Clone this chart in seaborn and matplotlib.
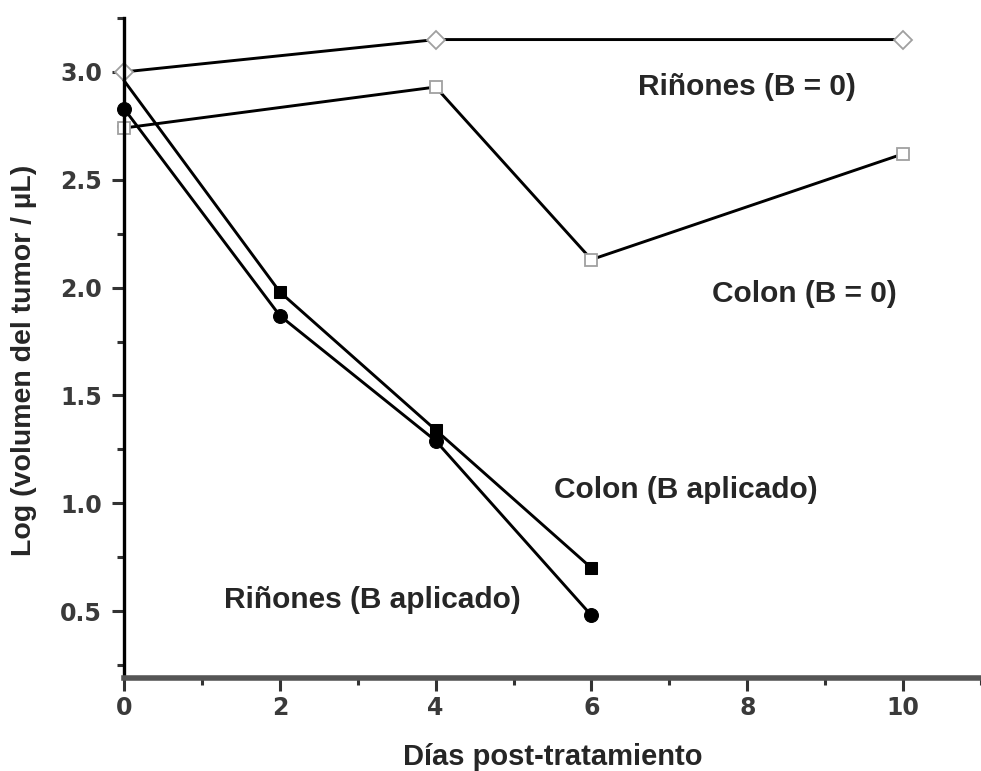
import matplotlib
matplotlib.use("Agg")
import matplotlib.pyplot as plt
import seaborn as sns
import pandas as pd
from matplotlib.ticker import MultipleLocator

# Data
dias_rin0 = [0, 4, 10]
rin_b0 = [3.0, 3.15, 3.15]
dias_col0 = [0, 4, 6, 10]
col_b0 = [2.74, 2.93, 2.13, 2.62]
dias_b = [0, 2, 4, 6]
col_bap = [2.96, 1.98, 1.34, 0.70]
rin_bap = [2.83, 1.87, 1.29, 0.48]
labels = ["Riñones (B = 0)", "Colon (B = 0)", "Colon (B aplicado)", "Riñones (B aplicado)"]
x_ticks = [0, 2, 4, 6, 8, 10]
y_ticks = [0.5, 1.0, 1.5, 2.0, 2.5, 3.0]

sns.set_style("white")
FAM = ["Liberation Sans", "DejaVu Sans"]
plt.rcParams["font.family"] = FAM

fig = plt.figure(figsize=(9.81, 7.71), dpi=100)
ax = fig.add_axes([124/981, 93/771, 1 - 124/981, (678-18)/771])

def df(x, y):
    return pd.DataFrame({"x": x, "y": y})

lw = 2.1
sns.lineplot(data=df(dias_rin0, rin_b0), x="x", y="y", ax=ax, color="black", lw=lw,
             marker="D", markersize=9, markerfacecolor="white", markeredgecolor="#a0a0a0",
             markeredgewidth=1.3, clip_on=False)
sns.lineplot(data=df(dias_col0, col_b0), x="x", y="y", ax=ax, color="black", lw=lw,
             marker="s", markersize=8, markerfacecolor="white", markeredgecolor="#a0a0a0",
             markeredgewidth=1.3, clip_on=False)
sns.lineplot(data=df(dias_b, col_bap), x="x", y="y", ax=ax, color="black", lw=lw,
             marker="s", markersize=9, markerfacecolor="black", markeredgecolor="black",
             markevery=[1, 2, 3], clip_on=False)
sns.lineplot(data=df(dias_b, rin_bap), x="x", y="y", ax=ax, color="black", lw=lw,
             marker="o", markersize=10, markerfacecolor="black", markeredgecolor="black",
             clip_on=False)

ax.set_xlim(0, 11)
ax.set_ylim(0.19, 3.25)
ax.set_xticks(x_ticks)
ax.set_yticks(y_ticks)
ax.set_xticklabels([str(v) for v in x_ticks])
ax.set_yticklabels([f"{v:.1f}" for v in y_ticks])
ax.xaxis.set_minor_locator(MultipleLocator(1))
ax.yaxis.set_minor_locator(MultipleLocator(0.25))

for s in ["top", "right"]:
    ax.spines[s].set_visible(False)
ax.spines["left"].set_linewidth(2.4)
ax.spines["left"].set_color("black")
ax.spines["bottom"].set_linewidth(4.0)
ax.spines["bottom"].set_color("#555555")

ax.tick_params(axis="both", which="both", bottom=True, left=True, top=False, right=False)
ax.tick_params(axis="both", which="major", direction="out", length=9, width=2.2,
               color="#333333", labelsize=17, labelcolor="#3a3a3a", pad=4)
ax.tick_params(axis="y", which="major", pad=7)
ax.tick_params(axis="both", which="minor", direction="out", length=5, width=2.2,
               color="#333333")
for t in ax.get_xticklabels() + ax.get_yticklabels():
    t.set_fontweight("bold")
    t.set_family(["DejaVu Sans"])

ax.set_xlabel("Días post-tratamiento", fontsize=21, fontweight="bold")
ax.xaxis.set_label_coords(0.5, (678 - 757) / 660, transform=ax.transAxes)
ax.xaxis.label.set_va("center")
ax.set_ylabel("Log (volumen del tumor / µL)", fontsize=20.5, fontweight="bold")
ax.yaxis.set_label_coords(-(124 - 24) / 857, (678 - 360) / 660, transform=ax.transAxes)
ax.yaxis.label.set_va("center")

tkw = dict(fontsize=21.5, fontweight="bold", ha="left", va="center")
ax.text(6.6, 2.93, labels[0], **tkw)
ax.text(7.55, 1.97, labels[1], **tkw)
ax.text(5.52, 1.06, labels[2], **tkw)
ax.text(1.28, 0.55, labels[3], **tkw)

fig.savefig("out.png", dpi=100)
